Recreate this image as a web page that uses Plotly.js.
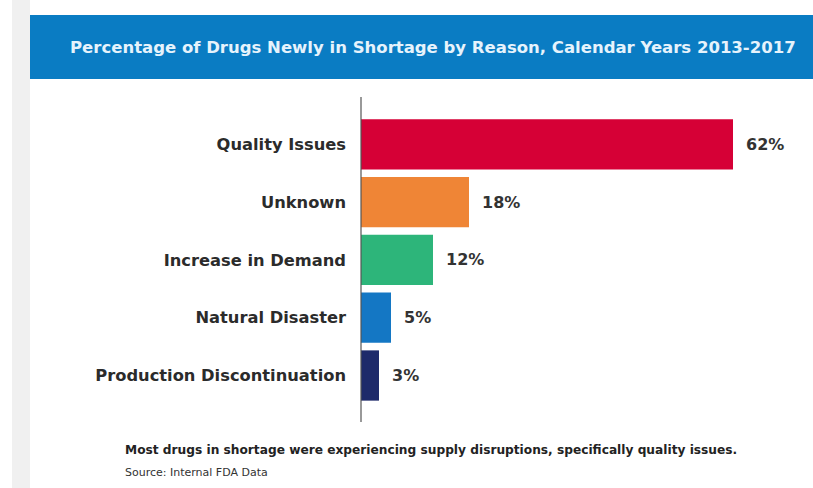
<!DOCTYPE html>
<html>
<head>
<meta charset="utf-8">
<script src="https://cdn.plot.ly/plotly-3.0.1.min.js"></script>
<style>html,body{margin:0;padding:0;background:#fff;}#chart{width:813px;height:488px;}</style>
</head>
<body>
<div id="chart"></div>
<script>
const categories = ["Quality Issues", "Unknown", "Increase in Demand", "Natural Disaster", "Production Discontinuation"];
const values = [62, 18, 12, 5, 3];
const valueLabels = ["62%", "18%", "12%", "5%", "3%"];
const barColors = ["#D60036", "#EF8536", "#2DB57A", "#1477C4", "#1E2A6A"];
const titleText = "Percentage of Drugs Newly in Shortage by Reason, Calendar Years 2013-2017";
const noteText = "Most drugs in shortage were experiencing supply disruptions, specifically quality issues.";
const sourceText = "Source: Internal FDA Data";

// plot area: x 361..781, y 97..420
const L = 361, R = 32, T = 97, B = 68, W = 813, H = 488;
const pw = W - L - R, ph = H - T - B;
const px = v => (v - L) / pw;
const py = v => (H - B - v) / ph;
const FONT = "DejaVu Sans";

const trace = {
  type: "bar",
  orientation: "h",
  x: values,
  y: categories,
  marker: {color: barColors, line: {width: 0}},
  hoverinfo: "none",
  width: 0.87
};

const annotations = values.map((v, i) => ({
  x: v, y: categories[i], xref: "x", yref: "y",
  text: valueLabels[i], showarrow: false, xanchor: "left", xshift: 11,
  font: {family: FONT, size: 16, color: "#333", weight: 700}
}));

annotations.push({
  xref: "paper", yref: "paper", x: px(433), y: py(47),
  text: titleText, showarrow: false, xanchor: "center", yanchor: "middle",
  font: {family: FONT, size: 16.5, color: "#E6F3FC", weight: 700}
});
annotations.push({
  xref: "paper", yref: "paper", x: px(123), y: py(450),
  text: noteText, showarrow: false, xanchor: "left", yanchor: "middle",
  font: {family: FONT, size: 12.2, color: "#222", weight: 700}
});
annotations.push({
  xref: "paper", yref: "paper", x: px(123), y: py(472),
  text: sourceText, showarrow: false, xanchor: "left", yanchor: "middle",
  font: {family: FONT, size: 11, color: "#333"}
});

const shapes = [
  {type: "rect", xref: "paper", yref: "paper", x0: px(12), x1: px(30), y0: py(488), y1: py(0),
   fillcolor: "#F0F0F0", line: {width: 0}, layer: "below"},
  {type: "rect", xref: "paper", yref: "paper", x0: px(30), x1: px(813), y0: py(79), y1: py(15),
   fillcolor: "#0A7CC3", line: {width: 0}, layer: "below"},
  {type: "line", xref: "paper", yref: "paper", x0: 0, x1: 0, y0: py(422), y1: py(97),
   line: {color: "#555", width: 1.2}}
];

const layout = {
  width: W, height: H,
  margin: {l: L, r: R, t: T, b: B, pad: 0},
  paper_bgcolor: "#ffffff", plot_bgcolor: "#ffffff",
  showlegend: false,
  xaxis: {range: [0, pw / 6], visible: false, fixedrange: true},
  yaxis: {
    type: "category",
    range: [4.77, -0.82],
    showgrid: false, zeroline: false, showline: false,
    ticks: "", ticklen: 0,
    ticklabelstandoff: 14,
    tickfont: {family: FONT, size: 16.3, color: "#2b2b2b", weight: 700}
  },
  annotations: annotations,
  shapes: shapes
};

Plotly.newPlot("chart", [trace], layout, {displayModeBar: false, staticPlot: true});
</script>
</body>
</html>
